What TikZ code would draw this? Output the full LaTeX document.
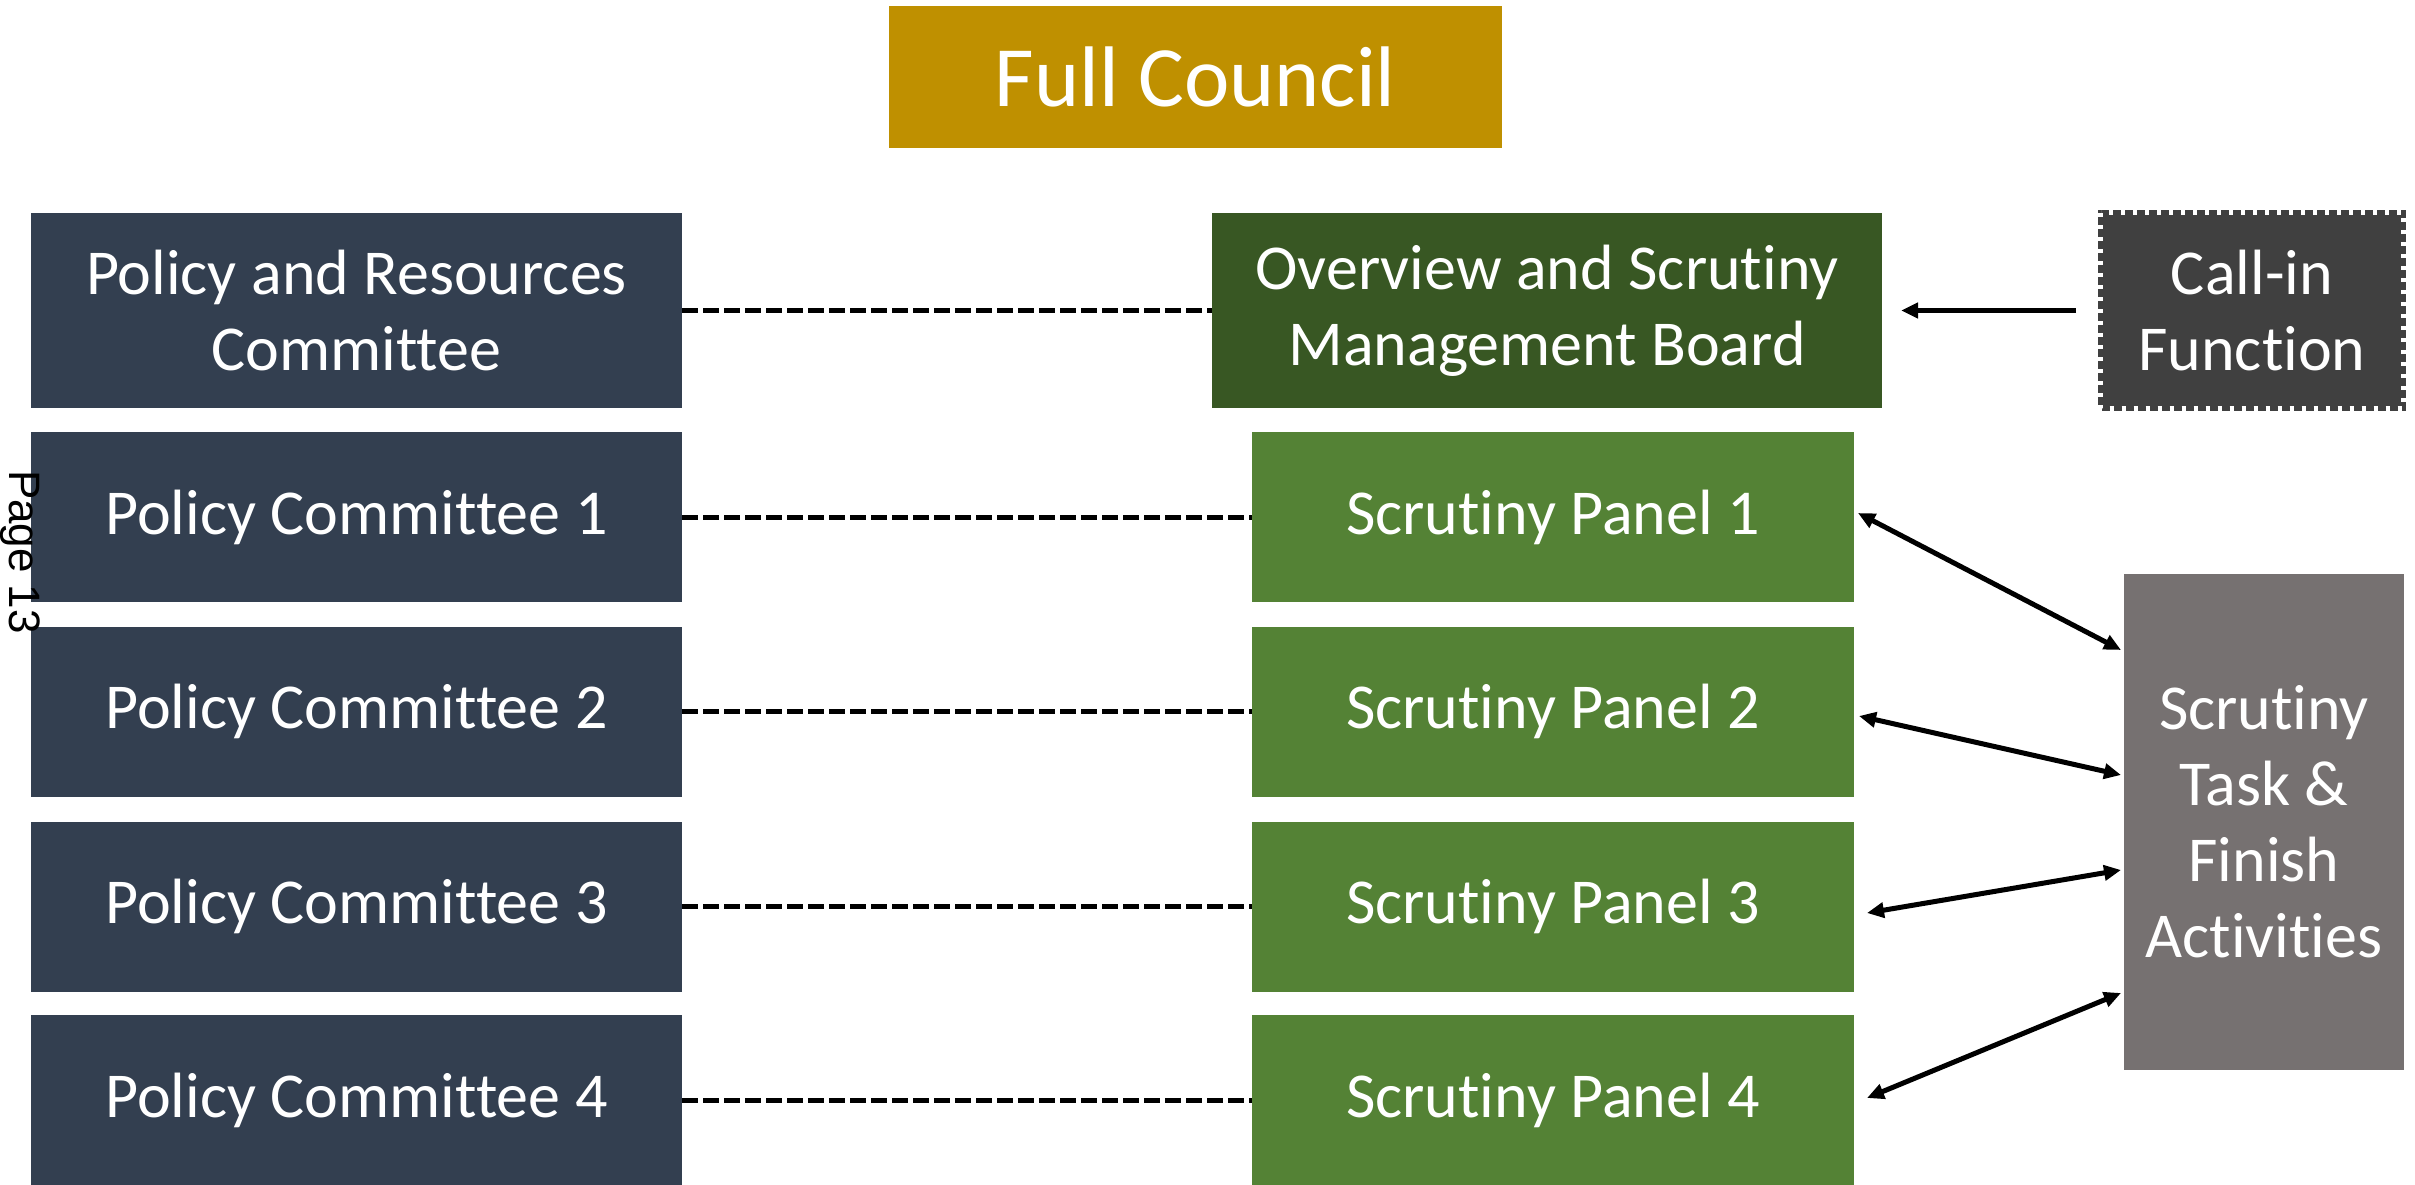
\documentclass[tikz,border=0pt]{standalone}
\usepackage{fontspec}
\setmainfont{Carlito}[Ligatures={NoCommon,NoRequired,NoContextual}]
\newfontfamily\pagefont{Liberation Sans}
\usetikzlibrary{arrows.meta}

\definecolor{navybox}{HTML}{333F50}
\definecolor{boardgreen}{HTML}{385723}
\definecolor{panelgreen}{HTML}{548235}
\definecolor{councilgold}{HTML}{BF9000}
\definecolor{callgrey}{HTML}{404040}
\definecolor{taskgrey}{HTML}{767171}

\tikzset{
  box/.style={rectangle, inner sep=0pt, outer sep=0pt, text=white, align=center,
    font=\fontsize{64}{76}\selectfont},
  policy/.style={box, fill=navybox, minimum width=651pt, minimum height=170pt},
  panel/.style={box, fill=panelgreen, minimum width=602pt, minimum height=170pt},
  link/.style={line width=5pt, dash pattern=on 16pt off 5pt},
  tip/.style={Triangle[length=17pt,width=15pt]},
  arr/.style={line width=5pt, -{Triangle[length=17pt,width=15pt]}},
  biarr/.style={line width=5pt, {Triangle[length=17pt,width=15pt]}-{Triangle[length=17pt,width=15pt]}}
}

\begin{document}
\begin{tikzpicture}[x=1pt, y=-1pt]
\useasboundingbox (0,0) rectangle (2415,1185);

% top level
\node[box, fill=councilgold, minimum width=613pt, minimum height=142pt,
      font=\fontsize{86}{100}\selectfont] (fc) at (1195.5,77) {Full Council};

% left column
\node[policy, minimum height=195pt] (pr) at (356.5,310.5) {Policy and Resources\\Committee};
\node[policy] (pc1) at (356.5,517) {Policy Committee 1};
\node[policy] (pc2) at (356.5,711.5) {Policy Committee 2};
\node[policy] (pc3) at (356.5,906.5) {Policy Committee 3};
\node[policy] (pc4) at (356.5,1100) {Policy Committee 4};

% right column
\node[box, fill=boardgreen, minimum width=670pt, minimum height=195pt] (osb) at (1547,310.5)
  {Overview and Scrutiny\\Management Board};
\node[panel] (sp1) at (1553,517) {Scrutiny Panel 1};
\node[panel] (sp2) at (1553,711.5) {Scrutiny Panel 2};
\node[panel] (sp3) at (1553,906.5) {Scrutiny Panel 3};
\node[panel] (sp4) at (1553,1100) {Scrutiny Panel 4};

% side boxes
\node[box, fill=callgrey, minimum width=308pt, minimum height=200pt] (call) at (2252,310.5)
  {Call-in\\Function};
\draw[white, line width=5pt, dash pattern=on 4pt off 8pt]
  ([xshift=2.5pt,yshift=-2.5pt]call.north west) rectangle ([xshift=-2.5pt,yshift=2.5pt]call.south east);
\node[box, fill=taskgrey, minimum width=280pt, minimum height=496pt] (task) at (2264,822)
  {Scrutiny\\Task \&\\Finish\\Activities};

% page marker
\node[rotate=-90, font=\pagefont\fontsize{44}{50}\selectfont, inner sep=0pt] (pg) at (20,552) {Page 13};

% dashed pairings
\draw[link] (pr) -- (osb);
\draw[link] (pc1) -- (sp1);
\draw[link] (pc2) -- (sp2);
\draw[link] (pc3) -- (sp3);
\draw[link] (pc4) -- (sp4);

% call-in arrow
\draw[arr, shorten >=19pt, shorten <=22pt] (call.west) -- (osb.east);

% task and finish links
\draw[biarr] ([xshift=4pt,yshift=4pt]sp1.east) -- ([xshift=-3pt,yshift=172pt]task.west);
\draw[biarr] ([xshift=5pt,yshift=-4.5pt]sp2.east) -- ([xshift=-3pt,yshift=47pt]task.west);
\draw[biarr] ([xshift=13pt,yshift=-6.5pt]sp3.east) -- ([xshift=-3pt,yshift=-48pt]task.west);
\draw[biarr] ([xshift=13pt,yshift=2pt]sp4.east) -- ([xshift=-3pt,yshift=-171pt]task.west);
\end{tikzpicture}
\end{document}
